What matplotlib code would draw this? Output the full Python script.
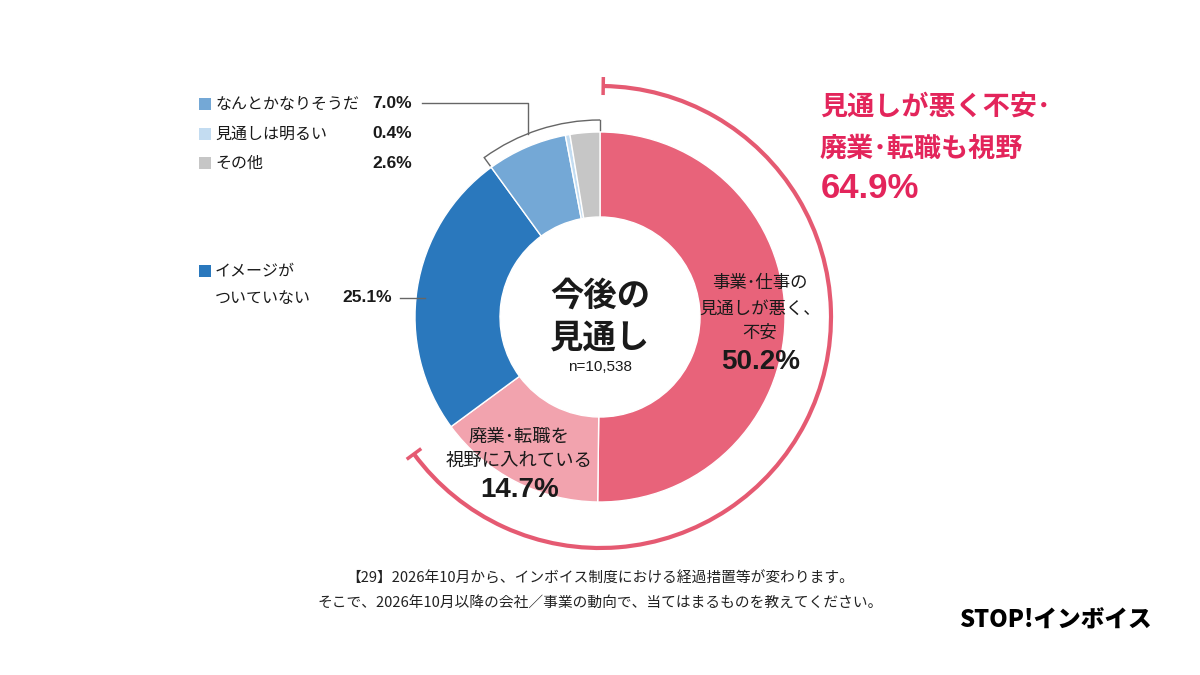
"""
Donut chart: 今後の見通し (n=10,538), STOP!インボイス survey Q29.
"""

import numpy as np
import matplotlib.pyplot as plt
from matplotlib.patches import Arc, Rectangle

plt.rcParams["font.family"] = ["Noto Sans CJK JP", "DejaVu Sans"]
NUM_FONT = ["Liberation Sans", "DejaVu Sans"]

# data (clockwise from 12 o'clock)
labels = [
    "事業・仕事の見通しが悪く、不安",
    "廃業・転職を視野に入れている",
    "イメージがついていない",
    "なんとかなりそうだ",
    "見通しは明るい",
    "その他",
]
values = [50.2, 14.7, 25.1, 7.0, 0.4, 2.6]
colors = ["#E8637A", "#F2A3AE", "#2A78BD", "#74A8D6", "#C3DCF1", "#C6C6C6"]

legend_items = [("なんとかなりそうだ", "7.0%"), ("見通しは明るい", "0.4%"), ("その他", "2.6%")]
center_title = ["今後の", "見通し"]
sample_size = "n=10,538"
total_negative = values[0] + values[1]
question = [
    "【29】2026年10月から、インボイス制度における経過措置等が変わります。",
    "そこで、2026年10月以降の会社／事業の動向で、当てはまるものを教えてください。",
]

W, H = 1200, 675
CX, CY = 600, H - 317
R_OUT, R_IN = 185, 100
ACCENT = "#E3255B"
TXT = "#1A1A1A"


def py(y):
    # pixel row -> data y
    return H - y


def polar(r, ang):
    a = np.deg2rad(ang)
    return CX + r * np.cos(a), CY + r * np.sin(a)


def main() -> None:
    fig = plt.figure(figsize=(12, 6.75), dpi=100)
    ax = fig.add_axes([0, 0, 1, 1])

    ax.pie(
        values,
        colors=colors,
        startangle=90,
        counterclock=False,
        radius=R_OUT,
        center=(CX, CY),
        wedgeprops=dict(width=R_OUT - R_IN, edgecolor="white", linewidth=1.0),
    )
    ax.set_xlim(0, W)
    ax.set_ylim(0, H)
    ax.set_aspect("equal")
    ax.axis("off")

    # red arc over the two negative slices
    end_ang = 90 - total_negative / 100 * 360
    r_arc = 231
    ax.add_patch(Arc((CX, CY), 2 * r_arc, 2 * r_arc, theta1=end_ang, theta2=89.2,
                     color="#E55A72", lw=3))
    for ang in (89.2, end_ang):
        x0, y0 = polar(r_arc - 9, ang)
        x1, y1 = polar(r_arc + 9, ang)
        ax.plot([x0, x1], [y0, y1], color="#E55A72", lw=2.5, solid_capstyle="butt")

    # gray bracket over the small slices
    small = values[3] + values[4] + values[5]
    b_start = 90 + small / 100 * 360
    r_br = 197
    ax.add_patch(Arc((CX, CY), 2 * r_br, 2 * r_br, theta1=90, theta2=b_start,
                     color="#666666", lw=1))
    for ang in (90, b_start):
        x0, y0 = polar(r_br - 10, ang)
        x1, y1 = polar(r_br, ang)
        ax.plot([x0, x1], [y0, y1], color="#666666", lw=1)
    bx, by = polar(r_br, 111.4)
    ax.plot([422, bx, bx], [py(103), py(103), by], color="#666666", lw=1)

    # legend on the left
    leg_y = [104, 134, 163]
    for (name, pct), y, col in zip(legend_items, leg_y, colors[3:]):
        ax.add_patch(Rectangle((199, py(y) - 6), 12, 12, color=col, lw=0))
        ax.text(215, py(y), name, fontsize=11.5, color=TXT, va="center", ha="left")
        ax.text(412, py(y), pct, fontsize=12.5, color=TXT, va="center", ha="right",
                fontweight="bold", family=NUM_FONT)

    ax.add_patch(Rectangle((199, py(271) - 6), 12, 12, color=colors[2], lw=0))
    ax.text(215, py(271), "イメージが", fontsize=11.5, color=TXT, va="center")
    ax.text(215, py(298), "ついていない", fontsize=11.5, color=TXT, va="center")
    ax.text(392, py(298), f"{values[2]:.1f}%", fontsize=12.5, color=TXT, va="center",
            ha="right", fontweight="bold", family=NUM_FONT)
    ax.plot([400, 425], [py(298), py(298)], color="#666666", lw=1)

    # center title
    ax.text(CX, py(296), center_title[0], fontsize=24, fontweight="bold", color=TXT,
            ha="center", va="center")
    ax.text(CX, py(338), center_title[1], fontsize=24, fontweight="bold", color=TXT,
            ha="center", va="center")
    ax.text(CX, py(367), sample_size, fontsize=11, color=TXT, ha="center", va="center",
            family=NUM_FONT)

    # slice labels
    for y, s in zip([283, 309, 333], ["事業･仕事の", "見通しが悪く、", "不安"]):
        ax.text(760, py(y), s, fontsize=12.5, color=TXT, ha="center", va="center")
    ax.text(761, py(362), f"{values[0]:.1f}%", fontsize=20, fontweight="bold",
            color=TXT, ha="center", va="center", family=NUM_FONT)

    for y, s in zip([437, 461], ["廃業･転職を", "視野に入れている"]):
        ax.text(519, py(y), s, fontsize=13.2, color=TXT, ha="center", va="center")
    ax.text(520, py(490), f"{values[1]:.1f}%", fontsize=20, fontweight="bold",
            color=TXT, ha="center", va="center", family=NUM_FONT)

    # accent annotation
    ax.text(820, py(107), "見通しが悪く不安･", fontsize=19.5, fontweight="bold",
            color=ACCENT, ha="left", va="center")
    ax.text(820, py(149), "廃業･転職も視野", fontsize=19.5, fontweight="bold",
            color=ACCENT, ha="left", va="center")
    ax.text(821, py(189), f"{total_negative:.1f}%", fontsize=25, fontweight="bold",
            color=ACCENT, ha="left", va="center", family=NUM_FONT)

    # question text
    ax.text(CX, py(578), question[0], fontsize=10.6, color="#222222", ha="center", va="center")
    ax.text(CX, py(604), question[1], fontsize=10.6, color="#222222", ha="center", va="center")

    # logo
    ax.text(1152, py(620), "STOP!インボイス", fontsize=17, fontweight="heavy",
            color="black", ha="right", va="center")

    fig.savefig("out.png", dpi=100, facecolor="white")


if __name__ == "__main__":
    main()
